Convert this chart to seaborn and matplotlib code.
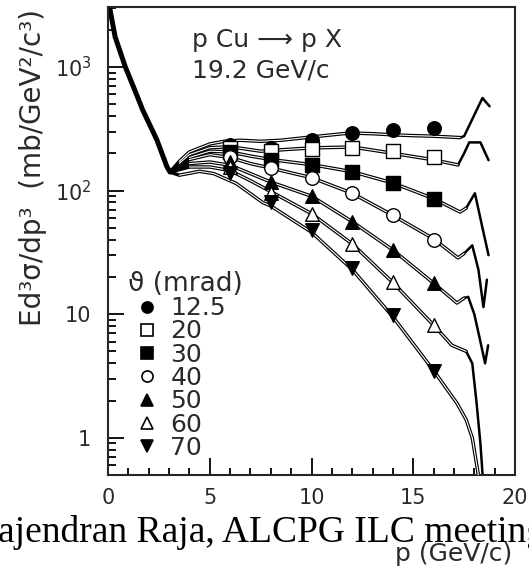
import matplotlib
matplotlib.use("Agg")
import matplotlib.pyplot as plt
import seaborn as sns
import pandas as pd
from matplotlib.lines import Line2D
from matplotlib.ticker import FixedLocator, FixedFormatter, LogLocator, NullFormatter, MultipleLocator

# ---------------- data ----------------
angles = ["12.5", "20", "30", "40", "50", "60", "70"]
p_points = [6, 8, 10, 12, 14, 16]

pts_12_5 = [235, 222, 258, 294, 308, 322]
pts_20 = [222, 210, 218, 222, 210, 185]
pts_30 = [205, 178, 162, 142, 114, 86]
pts_40 = [188, 153, 127, 95, 63, 40]
pts_50 = [170, 118, 91, 56, 33, 17.8]
pts_60 = [155, 96, 65, 37, 18.1, 8.15]
pts_70 = [138, 80, 47.6, 23.5, 9.8, 3.5]

# common low-momentum part of the model curves
common_x = [0.0, 0.1, 0.35, 0.85, 1.25, 1.7, 2.4, 2.9, 3.05]
common_y = [3400, 2900, 1750, 1000, 690, 450, 257, 155, 141]

# model curves (double-line part)
cx_12_5 = [3.05, 3.5, 4.0, 5.0, 5.7, 6.5, 7.5, 8.5, 9.9, 11.0, 11.9, 13.0, 14.0, 15.0, 16.0, 17.3]
cy_12_5 = [141, 172, 205, 238, 250, 255, 250, 255, 270, 282, 292, 288, 282, 278, 275, 268]
cx_20 = [3.05, 3.5, 4.0, 5.0, 6.0, 7.5, 9.0, 10.0, 12.0, 14.0, 16.0, 17.2]
cy_20 = [141, 166, 195, 222, 226, 208, 216, 221, 225, 200, 177, 161]
cx_30 = [3.05, 4, 5, 6, 7, 8, 10, 12, 14, 16, 17.3, 17.6]
cy_30 = [141, 185, 208, 205, 190, 178, 162, 142, 115, 86, 67, 72]
cx_40 = [3.05, 4, 5, 6, 7, 8, 10, 12, 14, 16, 17.2, 17.5]
cy_40 = [141, 178, 195, 185, 165, 152, 127, 95, 63, 40.7, 28.5, 31]
cx_50 = [3.05, 4, 5, 6, 7, 8, 10, 12, 14, 16, 17.15, 17.5]
cy_50 = [141, 165, 170, 160, 137, 117, 90, 56, 33, 17.8, 12.3, 13.5]
cx_60 = [3.05, 4, 5, 6, 7, 8, 10, 12, 14, 16, 16.9, 17.6]
cy_60 = [141, 155, 155, 145, 120, 98, 65, 37, 18, 8.15, 5.6, 5.0]
cx_70 = [3.05, 3.5, 4.5, 5.2, 6.3, 7.6, 8.0, 10, 12, 14, 16, 17.15, 17.6, 17.9, 18.2, 18.35]
cy_70 = [141, 133, 143, 137, 114, 80, 75, 46, 23, 9.5, 3.5, 1.9, 1.4, 1.0, 0.5, 0.3]

# quasi-elastic tails (single line)
tx_12_5 = [17.3, 17.5, 18.4, 18.75]
ty_12_5 = [268, 275, 560, 480]
tx_20 = [17.2, 17.5, 17.75, 18.3, 18.7]
ty_20 = [161, 200, 245, 245, 176]
tx_30 = [17.6, 18.03, 18.4, 18.7]
ty_30 = [72, 95, 50, 30]
tx_40 = [17.5, 17.9, 18.2, 18.45, 18.62]
ty_40 = [31, 36, 23, 11.4, 19]
tx_50 = [17.5, 17.7, 18.0, 18.3, 18.53, 18.68]
ty_50 = [13.5, 13.8, 10, 6, 4.0, 5.6]
tx_60 = [17.6, 17.9, 18.1, 18.3, 18.45]
ty_60 = [5.0, 4.0, 2.0, 0.9, 0.4]
tx_70 = []
ty_70 = []

yticks = [1, 10, 100, 1000]
ytick_labels = ["1", "10", r"$\mathregular{10^{2}}$", r"$\mathregular{10^{3}}$"]
xticks = [0, 5, 10, 15, 20]

points = dict(zip(angles, [pts_12_5, pts_20, pts_30, pts_40, pts_50, pts_60, pts_70]))
curves = dict(zip(angles, [(cx_12_5, cy_12_5), (cx_20, cy_20), (cx_30, cy_30), (cx_40, cy_40),
                           (cx_50, cy_50), (cx_60, cy_60), (cx_70, cy_70)]))
tails = dict(zip(angles, [(tx_12_5, ty_12_5), (tx_20, ty_20), (tx_30, ty_30), (tx_40, ty_40),
                          (tx_50, ty_50), (tx_60, ty_60), (tx_70, ty_70)]))

markers = {"12.5": ("o", "black"), "20": ("s", "white"), "30": ("s", "black"),
           "40": ("o", "white"), "50": ("^", "black"), "60": ("^", "white"), "70": ("v", "black")}

# ---------------- style ----------------
sns.set_style("ticks")
plt.rcParams["font.family"] = ["DejaVu Sans"]
plt.rcParams["mathtext.fontset"] = "dejavusans"

TXT = "#2a2a2a"

fig = plt.figure(figsize=(5.29, 5.67), dpi=100)
ax = fig.add_axes([108 / 529, 1 - 475 / 567, 407 / 529, 468 / 567])
ax.set_yscale("log")

BLACK_LW = 2.5
WHITE_LW = 0.8

# common part
sns.lineplot(x=common_x, y=common_y, ax=ax, color="black", lw=3.6, sort=False,
             estimator=None, legend=False, zorder=2)

for a in angles:
    cx, cy = curves[a]
    sns.lineplot(x=cx, y=cy, ax=ax, color="black", lw=BLACK_LW, sort=False,
                 estimator=None, legend=False, zorder=2)
    tx, ty = tails[a]
    if tx:
        sns.lineplot(x=tx, y=ty, ax=ax, color="black", lw=1.8, sort=False,
                     estimator=None, legend=False, zorder=2)
for a in angles:
    cx, cy = curves[a]
    sns.lineplot(x=cx[1:], y=cy[1:], ax=ax, color="white", lw=WHITE_LW, sort=False,
                 estimator=None, legend=False, zorder=3)

for a in angles:
    m, fc = markers[a]
    df = pd.DataFrame({"p": p_points, "v": points[a]})
    sns.scatterplot(data=df, x="p", y="v", ax=ax, marker=m, s=95, facecolor=fc,
                    edgecolor="black", linewidth=1.0, zorder=5, legend=False)

ax.set_xlim(0, 20)
ax.set_ylim(0.5, 3050)

ax.yaxis.set_major_locator(FixedLocator(yticks))
ax.yaxis.set_major_formatter(FixedFormatter(ytick_labels))
ax.yaxis.set_minor_locator(LogLocator(base=10, subs=range(2, 10)))
ax.yaxis.set_minor_formatter(NullFormatter())
ax.xaxis.set_major_locator(FixedLocator(xticks))
ax.xaxis.set_minor_locator(MultipleLocator(1))

ax.tick_params(which="both", direction="in", top=False, right=False, width=1.3,
               colors="black", labelcolor=TXT)
ax.tick_params(axis="y", which="major", length=11.5, labelsize=15, pad=12)
ax.tick_params(axis="y", which="minor", length=5.8)
ax.tick_params(axis="x", which="major", length=12, labelsize=15, pad=9)
ax.tick_params(axis="x", which="minor", length=5)
for s in ax.spines.values():
    s.set_linewidth(1.5)
    s.set_visible(True)

ax.set_ylabel("Ed³σ/dp³  (mb/GeV²/c³)", fontsize=20, color=TXT)
ax.yaxis.label.set_rotation(90)
ax.yaxis.label.set_ha("center")
ax.yaxis.label.set_va("center")
ax.yaxis.set_label_coords((33 - 108) / 407, (475 - 167) / 468)

ax.set_xlabel("p (GeV/c)", fontsize=18, color=TXT)
ax.xaxis.label.set_ha("right")
ax.xaxis.label.set_va("center")
ax.xaxis.set_label_coords((512 - 108) / 407, (475 - 554) / 468)

ax.text((192 - 108) / 407, (475 - 40) / 468, "p Cu ⟶ p X", transform=ax.transAxes,
        fontsize=18, color=TXT, ha="left", va="center",
        family=["DejaVu Sans", "Noto Sans", "DejaVu Sans Mono"])
ax.text((192 - 108) / 407, (475 - 71) / 468, "19.2 GeV/c", transform=ax.transAxes,
        fontsize=18, color=TXT, ha="left", va="center")

handles = [Line2D([], [], ls="none", marker=markers[a][0], markersize=8,
                  markerfacecolor=markers[a][1], markeredgecolor="black", markeredgewidth=1.2)
           for a in angles]
leg = ax.legend(handles, angles, title="ϑ (mrad)", loc="upper left",
                bbox_to_anchor=((128 - 108) / 407, (475 - 271) / 468),
                frameon=False, fontsize=18, title_fontsize=19, handlelength=1.5,
                handletextpad=0.2, labelspacing=-0.03, borderpad=0, borderaxespad=0,
                alignment="left")
for t in leg.get_texts():
    t.set_color(TXT)
leg.get_title().set_color(TXT)

fig.text(-2 / 529, (567 - 542) / 567, "ajendran Raja, ALCPG ILC meeting",
         family=["Liberation Serif", "DejaVu Serif"], fontsize=27, color="black",
         ha="left", va="baseline", zorder=1)

fig.savefig("out.png", dpi=100)
